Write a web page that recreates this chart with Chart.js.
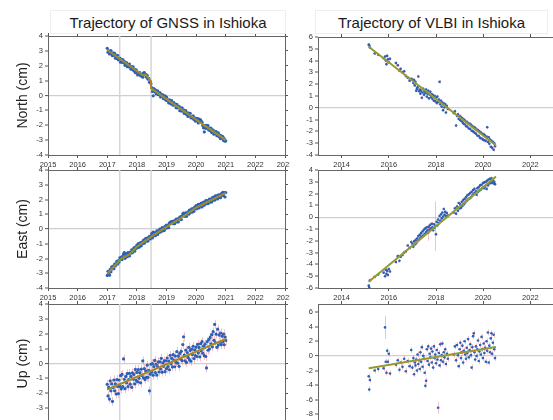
<!DOCTYPE html>
<html>
<head>
<meta charset="utf-8">
<script src="https://cdn.jsdelivr.net/npm/chart.js@4.4.1/dist/chart.umd.min.js"></script>
<style>
  body { margin: 0; width: 553px; height: 420px; overflow: hidden; background: #fff; position: relative;
         font-family: "Liberation Sans", Arial, Helvetica, sans-serif; }
  canvas { position: absolute; }
  .title { position: absolute; top: 10px; height: 24px; line-height: 24px; text-align: center; font-size: 15px;
           color: #1a1a1a; background: #fff; border: 1px solid #eee; box-sizing: border-box; z-index: 2; }
</style>
</head>
<body>
<div class="title" style="left:50px;width:236px">Trajectory of GNSS in Ishioka</div>
<div class="title" style="left:315px;width:233px">Trajectory of VLBI in Ishioka</div>
<canvas id="gN" width="290" height="137" style="left:0;top:32px"></canvas>
<canvas id="gE" width="290" height="136" style="left:0;top:166px"></canvas>
<canvas id="gU" width="290" height="137" style="left:0;top:300px"></canvas>
<canvas id="vN" width="269" height="136" style="left:290px;top:33px"></canvas>
<canvas id="vE" width="269" height="136" style="left:290px;top:166px"></canvas>
<canvas id="vU" width="269" height="143" style="left:290px;top:300px"></canvas>
<script>
// ---- GNSS solutions (cm) ----
const gnssTime = [
  2017.000, 2017.025, 2017.050, 2017.075, 2017.100, 2017.125, 2017.150, 2017.175, 2017.200, 2017.225,
  2017.250, 2017.275, 2017.300, 2017.325, 2017.350, 2017.375, 2017.400, 2017.425, 2017.450, 2017.475,
  2017.500, 2017.525, 2017.550, 2017.575, 2017.600, 2017.625, 2017.650, 2017.675, 2017.700, 2017.725,
  2017.750, 2017.775, 2017.800, 2017.825, 2017.850, 2017.875, 2017.900, 2017.925, 2017.950, 2017.975,
  2018.000, 2018.025, 2018.050, 2018.075, 2018.100, 2018.125, 2018.150, 2018.175, 2018.200, 2018.225,
  2018.250, 2018.275, 2018.300, 2018.325, 2018.350, 2018.375, 2018.400, 2018.425, 2018.450, 2018.475,
  2018.500, 2018.525, 2018.550, 2018.575, 2018.600, 2018.625, 2018.650, 2018.675, 2018.700, 2018.725,
  2018.750, 2018.775, 2018.800, 2018.825, 2018.850, 2018.875, 2018.900, 2018.925, 2018.950, 2018.975,
  2019.000, 2019.025, 2019.050, 2019.075, 2019.100, 2019.125, 2019.150, 2019.175, 2019.200, 2019.225,
  2019.250, 2019.275, 2019.300, 2019.325, 2019.350, 2019.375, 2019.400, 2019.425, 2019.450, 2019.475,
  2019.500, 2019.525, 2019.550, 2019.575, 2019.600, 2019.625, 2019.650, 2019.675, 2019.700, 2019.725,
  2019.750, 2019.775, 2019.800, 2019.825, 2019.850, 2019.875, 2019.900, 2019.925, 2019.950, 2019.975,
  2020.000, 2020.025, 2020.050, 2020.075, 2020.100, 2020.125, 2020.150, 2020.175, 2020.200, 2020.225,
  2020.250, 2020.275, 2020.300, 2020.325, 2020.350, 2020.375, 2020.400, 2020.425, 2020.450, 2020.475,
  2020.500, 2020.525, 2020.550, 2020.575, 2020.600, 2020.625, 2020.650, 2020.675, 2020.700, 2020.725,
  2020.750, 2020.775, 2020.800, 2020.825, 2020.850, 2020.875, 2020.900, 2020.925, 2020.950, 2020.975,
  2021.000
];
const gnssNorth = [
  3.17, 2.91, 3.01, 2.79, 2.99, 3.02, 2.78, 2.68, 2.86, 2.70, 2.83, 2.51, 2.67, 2.50, 2.70, 2.40, 2.48, 2.52, 2.24, 2.42,
  2.24, 2.42, 2.21, 2.29, 2.03, 2.16, 2.22, 1.94, 2.10, 1.93, 2.11, 1.92, 1.77, 1.95, 1.76, 1.92, 1.65, 1.75, 1.53, 1.72,
  1.62, 1.38, 1.50, 1.47, 1.54, 1.33, 1.31, 1.41, 1.23, 1.51, 1.54, 1.38, 1.42, 1.23, 1.36, 1.10, 1.16, 0.89, 0.94, 0.79,
  0.53, 0.27, -0.02, 0.47, 0.25, 0.38, 0.11, 0.25, 0.32, 0.05, 0.08, 0.20, -0.10, 0.07, -0.08, 0.04, -0.22, -0.11, -0.03, -0.31,
  -0.11, -0.35, -0.29, -0.50, -0.29, -0.37, -0.57, -0.34, -0.56, -0.65, -0.48, -0.64, -0.59, -0.82, -0.59, -0.84, -0.79, -0.73, -1.02, -0.84,
  -1.04, -0.83, -1.06, -0.96, -1.21, -1.08, -1.02, -1.27, -1.16, -1.41, -1.18, -1.34, -1.20, -1.50, -1.40, -1.52, -1.36, -1.62, -1.50, -1.72,
  -1.53, -1.71, -1.55, -1.85, -1.58, -1.65, -1.63, -1.74, -1.80, -2.01, -2.17, -2.45, -2.00, -2.21, -2.00, -2.20, -2.03, -2.32, -2.21, -2.37,
  -2.19, -2.48, -2.33, -2.32, -2.60, -2.42, -2.56, -2.43, -2.70, -2.60, -2.51, -2.78, -2.67, -2.90, -2.71, -2.85, -2.76, -3.02, -2.90, -3.07,
  -3.05
];
const gnssEast = [
  -3.15, -2.87, -2.99, -3.13, -2.74, -2.90, -2.57, -2.70, -2.52, -2.69, -2.38, -2.50, -2.35, -2.19, -2.38, -2.15, -2.24, -1.95, -2.07, -1.90,
  -2.07, -1.85, -1.70, -1.60, -1.99, -1.78, -1.68, -1.88, -1.60, -1.79, -1.83, -1.56, -1.64, -1.41, -1.61, -1.42, -1.28, -1.50, -1.23, -1.33,
  -1.09, -1.26, -0.99, -1.23, -1.02, -0.93, -1.14, -0.89, -0.98, -0.76, -0.96, -0.80, -0.63, -0.83, -0.62, -0.82, -0.59, -0.49, -0.67, -0.48,
  -0.32, -0.61, -0.21, -0.46, -0.25, -0.45, -0.27, -0.12, -0.37, -0.13, -0.23, -0.01, -0.20, -0.02, 0.09, -0.13, 0.06, -0.10, 0.18, 0.05,
  0.27, 0.08, 0.26, 0.10, 0.42, 0.38, 0.49, 0.50, 0.48, 0.36, 0.56, 0.36, 0.55, 0.67, 0.48, 0.67, 0.48, 0.76, 0.66, 0.84,
  0.64, 0.87, 1.02, 1.07, 1.01, 0.86, 1.10, 0.86, 1.08, 1.17, 1.00, 1.28, 1.10, 1.23, 1.37, 1.15, 1.39, 1.20, 1.48, 1.36,
  1.58, 1.38, 1.56, 1.67, 1.43, 1.67, 1.56, 1.76, 1.50, 1.74, 1.82, 1.61, 1.78, 1.92, 1.72, 1.92, 1.72, 1.92, 2.02, 1.82,
  2.03, 1.83, 2.13, 1.96, 2.16, 1.95, 2.25, 2.09, 2.24, 2.04, 2.32, 2.14, 2.30, 2.12, 2.40, 2.28, 2.48, 2.26, 2.46, 2.17,
  2.47
];
const gnssUp = [
  -1.40, -2.18, -1.61, -2.39, -1.17, -1.84, -1.37, -2.55, -1.63, -1.11, -1.84, -1.37, -2.05, -1.08, -1.55, -2.03, -1.11, -1.54, -0.82, -1.70,
  -0.73, -1.56, 0.31, -1.06, -1.69, -0.87, -1.30, -0.68, -1.56, -1.09, -0.67, -1.39, -0.87, -1.60, -0.63, -1.06, -0.74, -1.37, -0.40, -1.13,
  -0.60, -1.23, -0.41, -0.99, -0.62, -1.30, -0.38, -0.81, 0.17, -0.96, -0.34, -1.07, -0.50, -0.93, -0.11, -0.93, -0.46, -1.84, -0.72, -0.05,
  -0.58, -0.01, -0.79, -0.21, 0.21, -0.62, -0.05, -0.78, -0.21, 0.11, -0.57, 0.11, -0.37, 0.35, -0.58, 0.04, -0.19, 0.18, -0.55, 0.18,
  -0.35, 0.37, -0.21, 0.16, -0.42, 0.55, -0.02, 0.35, -0.23, 0.59, 0.21, -0.22, 0.50, 0.07, 0.80, 0.02, 0.49, -0.19, 0.68, 0.30,
  0.82, 0.19, 1.27, 1.79, 0.56, 0.18, 0.90, 0.07, 0.74, 0.41, 1.09, 0.26, 0.88, 0.15, 0.97, 0.59, 1.16, 0.33, 0.91, 0.53,
  1.10, 0.47, 1.29, 0.71, 1.08, 0.45, 1.33, 0.85, 1.47, 0.69, 1.16, 0.53, 1.30, 0.47, -0.30, 1.47, 0.89, 1.61, 0.98, 1.75,
  1.32, 1.94, 1.12, 2.14, 1.56, 2.63, 1.40, 1.97, 1.09, 2.31, 1.24, 1.91, 1.43, 2.05, 1.27, 1.84, 1.46, 1.98, 1.26, 1.78,
  1.55
];
const gnssUpSigma = 0.3;
const gnssEvents = [2017.42, 2018.48];

// fitted GNSS trajectories (knots)
const gnssNorthModelT = [2017.0, 2017.42, 2018.2, 2018.3, 2018.48, 2018.48, 2019.0, 2020.0, 2021.0];
const gnssNorthModel  = [3.06, 2.47, 1.36, 1.40, 0.95, 0.48, -0.24, -1.62, -3.0];
const gnssEastModelT  = [2017.0, 2017.42, 2017.5, 2017.75, 2018.0, 2018.5, 2019.0, 2019.5, 2020.0, 2020.5, 2021.0];
const gnssEastModel   = [-3.05, -2.12, -1.97, -1.72, -1.20, -0.50, 0.15, 0.75, 1.45, 1.95, 2.45];
const gnssUpModelT    = [2017.0, 2021.0];
const gnssUpModel     = [-1.75, 1.65];

// ---- VLBI sessions (cm) ----
const vlbiTime = [
  2015.15, 2015.17, 2015.20, 2015.40, 2015.55, 2015.78, 2015.84, 2015.87, 2015.90, 2015.93, 2015.96, 2016.00, 2016.05,
  2016.30, 2016.38, 2016.45, 2016.50, 2016.58, 2016.65, 2016.72, 2016.80, 2016.88, 2016.95,
  2017.00, 2017.04, 2017.07, 2017.10, 2017.13, 2017.16, 2017.19, 2017.22, 2017.25, 2017.28,
  2017.31, 2017.34, 2017.37, 2017.40, 2017.43, 2017.46, 2017.49, 2017.52, 2017.55, 2017.58,
  2017.61, 2017.64, 2017.67, 2017.70, 2017.73, 2017.76, 2017.79, 2017.82, 2017.85, 2017.88,
  2017.91, 2017.94, 2017.97, 2018.00, 2018.03, 2018.06, 2018.09, 2018.12, 2018.15, 2018.18,
  2018.21, 2018.24, 2018.27, 2018.30, 2018.33, 2018.36, 2018.39, 2018.42, 2018.46, 2018.50,
  2018.75, 2018.80, 2018.85, 2018.89, 2018.93, 2018.96,
  2019.00, 2019.03, 2019.06, 2019.09, 2019.12, 2019.15, 2019.18, 2019.21, 2019.24, 2019.27,
  2019.30, 2019.33, 2019.36, 2019.39, 2019.42, 2019.45, 2019.48, 2019.51, 2019.54, 2019.57,
  2019.60, 2019.63, 2019.66, 2019.69, 2019.72, 2019.75, 2019.78, 2019.81, 2019.84, 2019.87,
  2019.90, 2019.93, 2019.96, 2019.99,
  2020.02, 2020.05, 2020.08, 2020.11, 2020.14, 2020.17, 2020.20, 2020.23, 2020.26, 2020.29,
  2020.32, 2020.35, 2020.38, 2020.41, 2020.44, 2020.47, 2020.50
];
const vlbiNorth = [
  5.35, 5.30, 5.10, 4.60, 4.50, 4.20, 4.35, 4.00, 3.70, 4.40, 4.10, 3.85, 4.15,
  3.80, 3.60, 3.15, 3.30, 3.00, 3.10, 2.70, 2.55, 2.30, 2.45,
  2.40, 2.10, 2.35, 1.90, 2.20, 1.45, 1.60, 1.75, 2.65, 1.40,
  1.55, 1.20, 1.45, 0.85, 1.30, 1.60, 1.10, 1.40, 1.25, 1.55,
  0.95, 1.20, 1.45, 0.80, 1.10, 1.35, 0.90, 1.15, 0.75, 1.05,
  0.60, 1.00, 0.55, 0.85, 0.40, 0.95, 0.50, 0.70, 2.20, 0.30,
  0.60, 0.10, 0.45, -0.20, 0.35, 0.05, 0.30, -0.40, 0.15, -0.10,
  -0.45, -0.30, -1.50, -0.70, -0.55, -0.95,
  -0.70, -1.05, -0.80, -1.15, -0.90, -1.30, -1.00, -1.40, -1.10, -1.55,
  -1.20, -1.60, -1.30, -1.75, -1.35, -1.80, -1.45, -1.95, -1.55, -2.00,
  -1.65, -2.10, -1.70, -2.20, -1.85, -2.35, -1.90, -2.40, -2.00, -2.55,
  -2.10, -2.60, -2.20, -2.70,
  -2.25, -2.75, -2.35, -2.80, -2.45, -1.65, -2.90, -2.50, -3.05, -2.70,
  -3.30, -2.80, -3.40, -2.90, -3.55, -3.00, -3.25
];
const vlbiEast = [
  -5.80, -5.95, -5.35, -5.05, -4.85, -4.70, -5.00, -4.45, -4.80, -4.55, -4.90, -4.40, -4.60,
  -3.80, -3.30, -3.70, -3.35, -3.20, -3.00, -2.90, -2.40, -2.60, -2.10,
  -2.25, -2.50, -2.05, -2.30, -1.95, -2.20, -1.80, -2.00, -1.60, -1.90,
  -1.50, -1.75, -1.35, -1.65, -1.20, -1.55, -1.05, -1.40, -0.95, -1.25,
  -0.85, -1.10, -1.30, -0.80, -1.05, -0.65, -0.95, -0.55, -0.85, -1.10,
  -0.60, -0.90, -0.75, -1.45, -0.40, -0.70, -0.20, -0.50, 0.10, -0.30,
  0.25, -0.10, 0.40, 0.05, 0.70, 0.20, 0.45, 0.10, 0.35, 0.15,
  0.40, 0.75, 0.30, 0.90, 0.55, 1.20,
  0.75, 1.10, 0.80, 1.30, 0.95, 1.45, 1.10, 1.55, 1.25, 1.70,
  1.40, 1.85, 1.50, 1.95, 1.60, 2.05, 1.70, 2.15, 1.85, 2.30,
  2.00, 2.40, 2.05, 2.20, 1.90, 2.45, 2.15, 2.55, 2.25, 2.70,
  2.35, 2.75, 2.50, 2.90,
  2.45, 2.95, 2.60, 3.00, 2.40, 3.10, 2.70, 3.20, 2.85, 3.25,
  2.90, 3.30, 2.95, 3.15, 2.85, 3.00, 2.80
];
const vlbiUp = [
  -2.80, -4.60, -3.30, -2.00, -1.80, -1.70, 3.90, -0.80, -2.30, 0.70, -0.80, 0.30, -2.40,
  -1.20, -0.60, -1.90, -0.90, -1.50, -0.40, -2.10, -0.70, -1.40, 0.80,
  -1.60, -0.30, -2.50, -0.90, -1.30, -0.50, -2.00, 0.20, -1.10, -0.60,
  -1.80, 0.50, -0.80, 1.20, -1.50, 0.00, -0.40, -2.30, -4.10, -3.40,
  0.90, -0.70, 1.30, -1.20, 0.30, -0.20, 1.00, -0.90, 0.60, -1.60,
  1.30, -0.30, 0.20, -1.00, 0.80, -0.50, -7.10, 0.40, -1.30, 1.60,
  -0.60, 0.10, 1.70, -0.80, 0.50, -0.20, 0.90, -1.10, 0.30, -0.40,
  0.20, 1.30, -0.60, 1.50, 0.10, -1.40,
  0.90, 1.80, -0.30, 0.50, 1.40, -0.90, 0.70, 2.00, 0.20, -0.40,
  1.10, 0.40, 2.30, -0.20, 0.80, 1.60, 0.10, -1.60, 1.20, 2.70,
  3.10, 0.50, -0.50, 1.30, 0.00, 0.90, 2.10, -0.70, 0.60, 1.50,
  0.20, 2.60, 0.90, -0.30,
  1.70, 0.40, 1.10, -0.80, 2.00, 0.70, 3.20, -0.90, 1.40, 0.50,
  2.40, 3.10, 0.30, 1.80, 2.90, 0.90, -0.30
];
// formal errors: a typical value plus the few long bars
const vlbiSigmaN = 0.15, vlbiSigmaE = 0.15, vlbiSigmaU = 0.4;
const vlbiEastBigSigma = { 2017.97: 2.1, 2017.67: 0.7 };
const vlbiUpBigSigma = { 2015.84: 1.6, 2016.00: 0.9, 2018.09: 0.8 };

const vlbiTrendT     = [2015.15, 2020.54];
const vlbiNorthTrend = [5.18, -3.20];
const vlbiEastTrend  = [-5.47, 3.44];
const vlbiUpTrend    = [-1.70, 1.22];

// ticks
const gnssYearTicks  = [2015, 2016, 2017, 2018, 2019, 2020, 2021, 2022, 2023];
const vlbiYearTicks  = [2014, 2016, 2018, 2020, 2022];
const gnssCmTicks    = [-4, -3, -2, -1, 0, 1, 2, 3, 4];
const vlbiNorthTicks = [-4, -3, -2, -1, 0, 1, 2, 3, 4, 5, 6];
const vlbiEastTicks  = [-6, -5, -4, -3, -2, -1, 0, 1, 2, 3, 4];
const vlbiUpTicks    = [-10, -8, -6, -4, -2, 0, 2, 4, 6];

const FONT = '"Liberation Sans", Arial, Helvetica, sans-serif';

// pink formal-error bars, drawn under the points
const errorBars = {
  id: 'errorBars',
  beforeDatasetsDraw(chart) {
    const { ctx, chartArea: a, scales: { x, y } } = chart;
    ctx.save();
    ctx.beginPath(); ctx.rect(a.left, a.top, a.width, a.height); ctx.clip();
    ctx.strokeStyle = 'rgba(236,120,132,0.45)';
    ctx.lineWidth = 1;
    chart.data.datasets.forEach(ds => {
      if (!ds.sigma) return;
      ds.data.forEach(p => {
        const s = typeof ds.sigma === 'function' ? ds.sigma(p) : ds.sigma;
        const px = Math.round(x.getPixelForValue(p.x)) + 0.5;
        ctx.beginPath();
        ctx.moveTo(px, y.getPixelForValue(p.y - s));
        ctx.lineTo(px, y.getPixelForValue(p.y + s));
        ctx.stroke();
      });
    });
    ctx.restore();
  }
};

function fix(size, vertical) {
  return s => {
    if (vertical) s.width = size; else s.height = size;
    s.paddingLeft = s.paddingRight = s.paddingTop = s.paddingBottom = 0;
  };
}

function axis(pos, min, max, tickVals, labels, size) {
  const vertical = pos === 'left' || pos === 'right';
  return {
    type: 'linear', axis: vertical ? 'y' : 'x', position: pos, min, max,
    afterBuildTicks: s => { s.ticks = tickVals.map(v => ({ value: v })); },
    afterFit: fix(size, vertical),
    grid: { drawOnChartArea: false, tickLength: 3, color: '#555', tickColor: '#555', tickWidth: 1 },
    border: { color: '#666', width: 1 },
    ticks: { display: labels, padding: 2, autoSkip: false, maxRotation: 0, color: '#333',
             font: { size: 7.5, family: FONT }, callback: v => String(v) }
  };
}

function panel(id, o) {
  const pts = o.t.map((t, i) => ({ x: t, y: o.v[i] }));
  const model = o.mt.map((t, i) => ({ x: t, y: o.mv[i] }));
  const datasets = [
    { data: model, showLine: true, borderColor: o.lineTop, borderWidth: 1, pointRadius: 0, order: 0 },
    { data: model, showLine: true, borderColor: '#7fa83c', borderWidth: 2, pointRadius: 0, order: 1 },
    { data: pts, pointRadius: o.r, backgroundColor: '#2b5fb8', borderWidth: 0, sigma: o.sigma, order: 2 }
  ];
  (o.events || []).forEach(e => datasets.push({
    data: [{ x: e, y: -100 }, { x: e, y: 100 }], showLine: true,
    borderColor: '#d6d6d6', borderWidth: 1.5, pointRadius: 0, order: 3
  }));

  const yMain = axis('left', o.ymin, o.ymax, o.yTicks, true, o.leftW);
  yMain.grid = Object.assign({}, yMain.grid, {
    drawOnChartArea: true,
    color: c => (c.tick && c.tick.value === 0 ? '#cfcfcf' : 'rgba(0,0,0,0)'),
    lineWidth: c => (c.tick && c.tick.value === 0 ? 1.2 : 0)
  });
  if (o.yTitle) {
    yMain.title = { display: true, text: o.yTitle, color: '#222',
                    font: { size: 14, family: FONT }, padding: { top: 15, bottom: 0 } };
  }

  new Chart(document.getElementById(id), {
    type: 'scatter',
    data: { datasets },
    options: {
      responsive: false, animation: false, devicePixelRatio: 1,
      layout: { padding: 0 },
      plugins: { legend: { display: false }, tooltip: { enabled: false }, title: { display: false } },
      scales: {
        x: axis('bottom', o.xmin, o.xmax, o.xTicks, true, 14),
        xt: axis('top', o.xmin, o.xmax, o.xTicks, false, 3),
        y: yMain,
        yr: axis('right', o.ymin, o.ymax, o.yTicks, false, 5)
      }
    },
    plugins: [errorBars]
  });
}

const gnssBase = { t: gnssTime, xmin: 2015, xmax: 2023, xTicks: gnssYearTicks, ymin: -4, ymax: 4,
                   yTicks: gnssCmTicks, leftW: 48, events: gnssEvents, r: 1.6, lineTop: '#cc6f1e' };
panel('gN', Object.assign({}, gnssBase, { v: gnssNorth, mt: gnssNorthModelT, mv: gnssNorthModel, yTitle: 'North (cm)' }));
panel('gE', Object.assign({}, gnssBase, { v: gnssEast, mt: gnssEastModelT, mv: gnssEastModel, yTitle: 'East (cm)' }));
panel('gU', Object.assign({}, gnssBase, { v: gnssUp, mt: gnssUpModelT, mv: gnssUpModel, yTitle: 'Up (cm)', sigma: gnssUpSigma }));

const vlbiBase = { t: vlbiTime, mt: vlbiTrendT, xmin: 2013, xmax: 2023, xTicks: vlbiYearTicks, leftW: 28,
                   r: 1.3, lineTop: '#b78a2a' };
panel('vN', Object.assign({}, vlbiBase, { v: vlbiNorth, mv: vlbiNorthTrend, ymin: -4, ymax: 6, yTicks: vlbiNorthTicks,
  sigma: vlbiSigmaN }));
panel('vE', Object.assign({}, vlbiBase, { v: vlbiEast, mv: vlbiEastTrend, ymin: -6, ymax: 4, yTicks: vlbiEastTicks,
  sigma: p => vlbiEastBigSigma[p.x.toFixed(2)] || vlbiSigmaE }));
panel('vU', Object.assign({}, vlbiBase, { v: vlbiUp, mv: vlbiUpTrend, ymin: -10, ymax: 7.1, yTicks: vlbiUpTicks,
  sigma: p => vlbiUpBigSigma[p.x.toFixed(2)] || vlbiSigmaU }));
</script>
</body>
</html>
